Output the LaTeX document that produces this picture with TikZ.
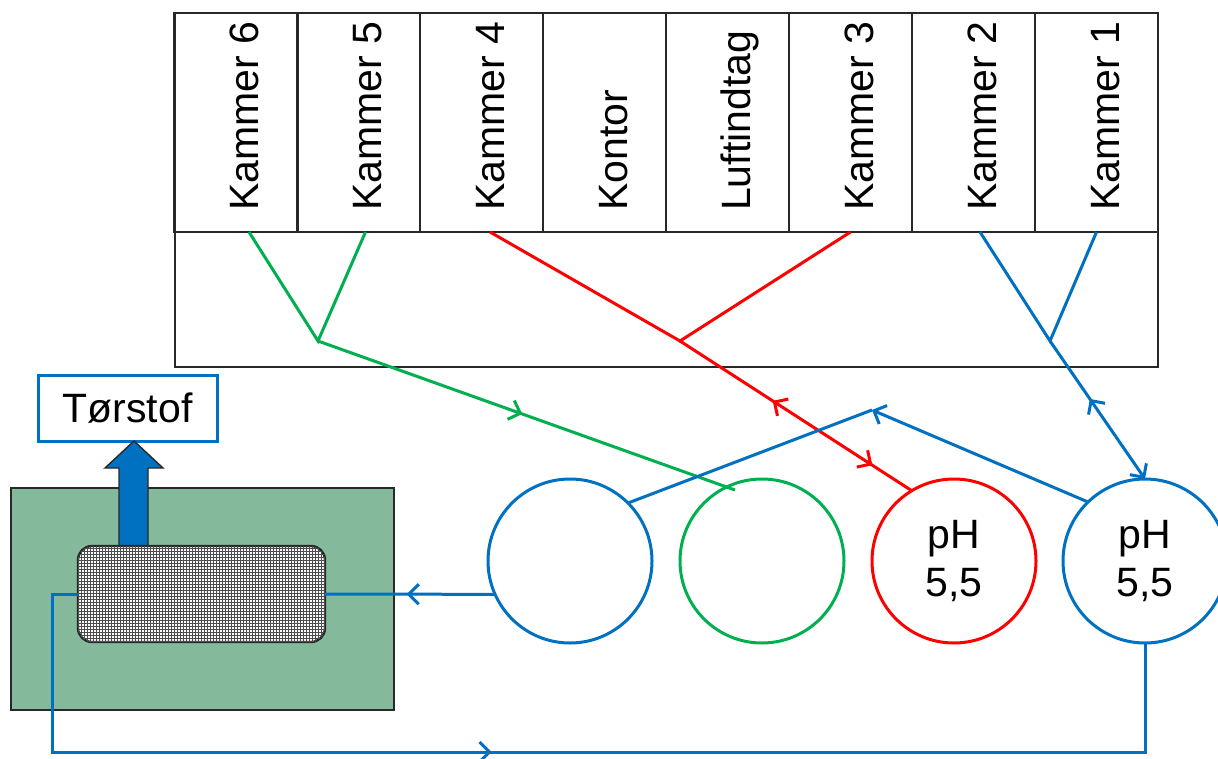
\documentclass[tikz,border=0pt]{standalone}
\usepackage{fontspec}
\setmainfont{Liberation Sans}
\usetikzlibrary{arrows.meta,decorations.markings,patterns,calc}
\definecolor{cblue}{RGB}{0,112,192}
\definecolor{cgreen}{RGB}{0,176,80}
\definecolor{cred}{RGB}{255,0,0}
\definecolor{tankgreen}{RGB}{132,185,156}
\definecolor{frame}{RGB}{40,40,40}
\tikzset{
  barb/.tip={Straight Barb[length=10pt,width=20pt]},
  txt/.style={font=\fontsize{41}{48}\selectfont, inner sep=0pt},
  cell/.style={draw=frame, line width=2.6pt, minimum width=123pt, minimum height=219pt, inner sep=0pt, outer sep=0pt},
  lab/.style={txt, rotate=90, anchor=base west},
  conn/.style={line width=3pt},
  bl/.style={conn, draw=cblue},
  gr/.style={conn, draw=cgreen},
  rd/.style={conn, draw=cred},
  ring/.style={circle, minimum size=164pt, inner sep=0pt, outer sep=0pt, line width=3pt, fill=white, txt, align=center},
  midarrow/.style={postaction={decorate, decoration={markings, mark=at position #1 with {\arrow{barb}}}}},
  midback/.style={postaction={decorate, decoration={markings, mark=at position #1 with {\arrowreversed{barb}}}}},
}
\begin{document}
\begin{tikzpicture}[x=1pt, y=-1pt]
\clip (0,0) rectangle (1218,758);
\fill[white] (0,0) rectangle (1218,758);

% top building
\node[cell] (c6) at (236,122.5) {};
\node[cell] (c5) at (358.5,122.5) {};
\node[cell] (c4) at (481.5,122.5) {};
\node[cell] (ko) at (604.5,122.5) {};
\node[cell] (lu) at (727.5,122.5) {};
\node[cell] (c3) at (850.5,122.5) {};
\node[cell] (c2) at (973.5,122.5) {};
\node[cell] (c1) at (1096.5,122.5) {};
\node[draw=frame, line width=2.6pt, minimum width=983pt, minimum height=135pt, inner sep=0pt, outer sep=0pt] (low) at (666.5,299.5) {};

\node[lab] (l6) at (258.5,211) {Kammer 6};
\node[lab] (l5) at (381,211) {Kammer 5};
\node[lab] (l4) at (504,211) {Kammer 4};
\node[lab] (lk) at (627,211) {Kontor};
\node[lab] (ll) at (750,211) {Luftindtag};
\node[lab] (l3) at (873,211) {Kammer 3};
\node[lab] (l2) at (996,211) {Kammer 2};
\node[lab] (l1) at (1119,211) {Kammer 1};

% tank
\node[draw=frame, line width=2.4pt, fill=tankgreen, minimum width=383pt, minimum height=222pt, outer sep=0pt] (tank) at (202.5,599) {};
\node[draw=cblue, line width=3pt, fill=white, minimum width=179pt, minimum height=66pt, outer sep=0pt, txt] (tor) at (127.5,408) {Tørstof};
\draw[frame, line width=1.4pt, fill=cblue] (119,546) -- (119,468) -- (105,468) -- (134,441) -- (163,468) -- (148,468) -- (148,546) -- cycle;
\node[draw=frame, line width=2.4pt, fill=white, rounded corners=14pt, minimum width=247pt, minimum height=96pt, outer sep=0pt,
      postaction={pattern=grid, pattern color=black!70}] (mesh) at (201.5,594) {};

% circles
\node[ring, draw=cblue] (bc1) at (570,561) {};
\node[ring, draw=cgreen] (gc) at (762,561) {};
\node[ring, draw=cred] (rc) at (954,561) {pH\\5,5};
\node[ring, draw=cblue] (bc2) at (1145,561) {pH\\5,5};

% junctions
\coordinate (jg) at (318,341);
\coordinate (jr) at (680,341);
\coordinate (jb) at (1050,341);
\coordinate (ap) at (872,410);
\coordinate (gend) at (735,490);
\coordinate (lb) at (52,752);

% green
\draw[gr] ($(c6.south)+(13,0)$) -- (jg) -- ($(c5.south)+(7,0)$);
\draw[gr, midarrow=0.49] (jg) -- (gend);

% red
\draw[rd] ($(c4.south)+(8.5,0)$) -- (jr) -- (c3.south);
\draw[rd, midback=0.40, midarrow=0.83] (jr) -- (rc.121);

% blue
\draw[bl] ($(c2.south)+(6.5,0)$) -- (jb) -- (c1.south);
\draw[bl, midback=0.42, -{barb}] (jb) -- (bc2.north);
\draw[bl, -{barb}] (bc2.134) -- (ap);
\draw[bl] (ap) -- (bc1.45);
\draw[bl, midarrow=0.52] (bc1.204) -- (mesh.east);
\draw[bl, midarrow=0.45] (mesh.west) -- (lb |- mesh.west) -- (lb) -- (lb -| bc2.south) -- (bc2.south);
\end{tikzpicture}
\end{document}
